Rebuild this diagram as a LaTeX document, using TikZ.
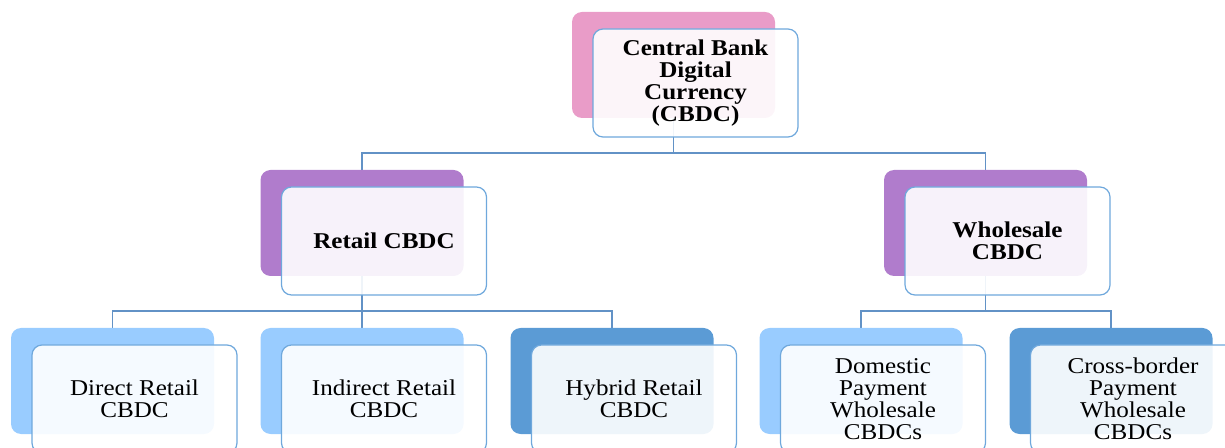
\documentclass[tikz,border=0pt]{standalone}
\usepackage{fontspec}
\setmainfont{Liberation Serif}[FakeStretch=1.11]
\usepackage{tikz}
\usetikzlibrary{backgrounds}
\definecolor{pinkbg}{RGB}{233,156,200}
\definecolor{purplebg}{RGB}{176,124,204}
\definecolor{lightbg}{RGB}{153,204,255}
\definecolor{darkbg}{RGB}{91,155,213}
\definecolor{edgeblue}{RGB}{111,168,220}
\definecolor{linkblue}{RGB}{98,146,198}

\begin{document}
\begin{tikzpicture}[x=0.5pt, y=-0.5pt,
  back/.style={rectangle, rounded corners=5pt, minimum width=101.5pt,
               minimum height=53pt, inner sep=0pt},
  front/.style={rectangle, rounded corners=5pt, draw=edgeblue, line width=0.6pt,
                fill=white, fill opacity=0.9, text opacity=1,
                minimum width=102.5pt, minimum height=54pt, inner sep=0pt,
                align=center, font=\fontsize{11.3}{11}\selectfont},
  link/.style={draw=linkblue, line width=0.7pt}
]
\clip (0,0) rectangle (1225,448);

% top level
\node[back, fill=pinkbg] (cbdc-bg) at (673.5,65) {};
\node[front] (cbdc) at ([shift={(22,18)}]cbdc-bg.center)
  {\bfseries Central Bank\\\bfseries Digital\\\bfseries Currency\\\bfseries (CBDC)};

% second level
\node[back, fill=purplebg] (retail-bg) at (362,223) {};
\node[front] (retail) at ([shift={(22,18)}]retail-bg.center) {\bfseries Retail CBDC};
\node[back, fill=purplebg] (whole-bg) at (985.5,223) {};
\node[front] (whole) at ([shift={(22,18)}]whole-bg.center)
  {\bfseries Wholesale\\\bfseries CBDC};

% third level
\node[back, fill=lightbg] (direct-bg) at (112.5,381) {};
\node[front] (direct) at ([shift={(22,18)}]direct-bg.center) {Direct Retail\\CBDC};
\node[back, fill=lightbg] (indirect-bg) at (362,381) {};
\node[front] (indirect) at ([shift={(22,18)}]indirect-bg.center) {Indirect Retail\\CBDC};
\node[back, fill=darkbg] (hybrid-bg) at (612,381) {};
\node[front] (hybrid) at ([shift={(22,18)}]hybrid-bg.center) {Hybrid Retail\\CBDC};
\node[back, fill=lightbg] (domestic-bg) at (861,381) {};
\node[front] (domestic) at ([shift={(22,18)}]domestic-bg.center)
  {Domestic\\Payment\\Wholesale\\CBDCs};
\node[back, fill=darkbg] (cross-bg) at (1111,381) {};
\node[front] (cross) at ([shift={(22,18)}]cross-bg.center)
  {Cross-border\\Payment\\Wholesale\\CBDCs};

% connectors
\coordinate (top-j) at (673.5,153);
\coordinate (retail-j) at (362,311);
\coordinate (whole-j) at (985.5,311);
\begin{scope}[on background layer]
\draw[link] (cbdc-bg.south) -- (top-j);
\draw[link] (retail-bg.north) |- (top-j) -| (whole-bg.north);
\draw[link] (retail-bg.south) -- (retail-j);
\draw[link] (direct-bg.north) |- (retail-j) -| (hybrid-bg.north);
\draw[link] (retail-j) -- (indirect-bg.north);
\draw[link] (whole-bg.south) -- (whole-j);
\draw[link] (domestic-bg.north) |- (whole-j) -| (cross-bg.north);
\end{scope}
\end{tikzpicture}
\end{document}
